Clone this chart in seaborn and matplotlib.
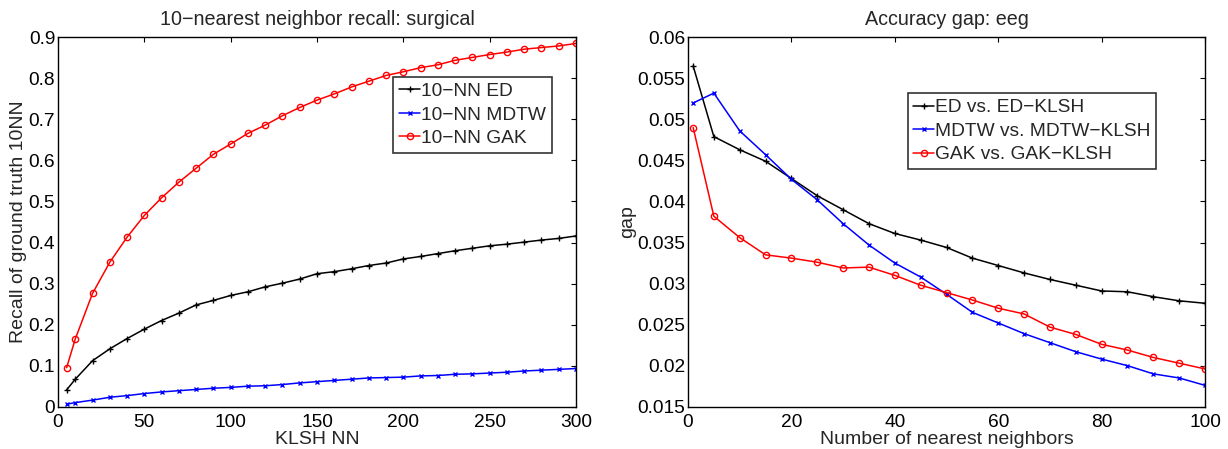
import numpy as np
import pandas as pd
import matplotlib
matplotlib.use("Agg")
import matplotlib.pyplot as plt
import seaborn as sns

# left panel: recall vs KLSH NN (surgical)
klsh_nn = [5, 10, 20, 30, 40, 50, 60, 70, 80, 90, 100, 110, 120, 130, 140, 150,
           160, 170, 180, 190, 200, 210, 220, 230, 240, 250, 260, 270, 280, 290, 300]
recall_ed = [0.041, 0.067, 0.112, 0.141, 0.166, 0.189, 0.210, 0.228, 0.248, 0.259, 0.271,
             0.280, 0.292, 0.301, 0.311, 0.324, 0.329, 0.336, 0.344, 0.350, 0.360, 0.366,
             0.373, 0.380, 0.386, 0.392, 0.396, 0.401, 0.406, 0.410, 0.416]
recall_mdtw = [0.006, 0.010, 0.016, 0.023, 0.027, 0.032, 0.036, 0.039, 0.042, 0.045, 0.047,
               0.050, 0.051, 0.054, 0.058, 0.061, 0.064, 0.067, 0.070, 0.071, 0.072, 0.075,
               0.076, 0.079, 0.080, 0.082, 0.084, 0.087, 0.089, 0.091, 0.093]
recall_gak = [0.095, 0.165, 0.276, 0.352, 0.413, 0.466, 0.509, 0.547, 0.581, 0.615, 0.640,
              0.666, 0.686, 0.709, 0.729, 0.747, 0.762, 0.779, 0.793, 0.807, 0.816, 0.826,
              0.833, 0.844, 0.851, 0.858, 0.864, 0.871, 0.875, 0.879, 0.885]

# right panel: accuracy gap vs number of neighbors (eeg)
n_neighbors = [1, 5, 10, 15, 20, 25, 30, 35, 40, 45, 50, 55, 60, 65, 70, 75, 80, 85, 90, 95, 100]
gap_ed = [0.0565, 0.0479, 0.0463, 0.0449, 0.0428, 0.0407, 0.0390, 0.0373, 0.0361, 0.0353, 0.0344,
          0.0331, 0.0322, 0.0313, 0.0305, 0.0298, 0.0291, 0.0290, 0.0284, 0.0279, 0.0276]
gap_mdtw = [0.0520, 0.0532, 0.0486, 0.0457, 0.0427, 0.0402, 0.0373, 0.0347, 0.0325, 0.0308, 0.0287,
            0.0265, 0.0252, 0.0239, 0.0228, 0.0217, 0.0208, 0.0200, 0.0190, 0.0185, 0.0176]
gap_gak = [0.0490, 0.0382, 0.0356, 0.0335, 0.0331, 0.0326, 0.0319, 0.0320, 0.0310, 0.0298, 0.0289,
           0.0280, 0.0270, 0.0263, 0.0247, 0.0238, 0.0226, 0.0219, 0.0210, 0.0203, 0.0196]

left_names = ["10\u2212NN ED", "10\u2212NN MDTW", "10\u2212NN GAK"]
right_names = ["ED vs. ED\u2212KLSH", "MDTW vs. MDTW\u2212KLSH", "GAK vs. GAK\u2212KLSH"]
colors = ["black", "blue", "red"]
markers = ["+", "x", "o"]
marker_sizes = [4, 3, 4.5]

sns.set_theme(style="white")
plt.rcParams["font.family"] = ["Liberation Sans", "DejaVu Sans"]

left_df = pd.concat([
    pd.DataFrame({"x": klsh_nn, "y": vals, "series": name})
    for name, vals in zip(left_names, [recall_ed, recall_mdtw, recall_gak])
])
right_df = pd.concat([
    pd.DataFrame({"x": n_neighbors, "y": vals, "series": name})
    for name, vals in zip(right_names, [gap_ed, gap_mdtw, gap_gak])
])

fig = plt.figure(figsize=(12.28, 4.49), dpi=100)
ax1 = fig.add_axes([58 / 1228, 1 - 406.7 / 449, 518 / 1228, 369.4 / 449])
ax2 = fig.add_axes([688 / 1228, 1 - 406.7 / 449, 517 / 1228, 369.4 / 449])


def draw(ax, df, names):
    for name, c, m, ms in zip(names, colors, markers, marker_sizes):
        sub = df[df["series"] == name]
        sns.lineplot(data=sub, x="x", y="y", ax=ax, color=c, marker=m, label=name,
                     markersize=ms, linewidth=1.1,
                     markerfacecolor="none" if m == "o" else c,
                     markeredgecolor=c, markeredgewidth=1.0)
    for side in ax.spines.values():
        side.set_color("black")
        side.set_linewidth(1.0)
    ax.tick_params(direction="in", top=True, right=True, length=3.5, width=0.8,
                   labelsize=13.8, colors="black")
    ax.tick_params(axis="x", pad=5)
    ax.tick_params(axis="y", pad=2)


def style_legend(ax, anchor):
    leg = ax.legend(loc="upper left", bbox_to_anchor=anchor,
                    fontsize=13.75, frameon=True, fancybox=False, edgecolor="black",
                    handlelength=1.1, handletextpad=0.05, borderpad=0.3, labelspacing=0.32,
                    borderaxespad=0)
    leg.get_frame().set_linewidth(1.2)


draw(ax1, left_df, left_names)
ax1.set_xlim(0, 300)
ax1.set_ylim(0, 0.9)
ax1.set_xticks(np.arange(0, 301, 50))
ax1.set_yticks(np.round(np.arange(0, 0.91, 0.1), 1))
ax1.set_yticklabels(["0"] + [f"{v:.1f}" for v in np.arange(0.1, 0.91, 0.1)])
ax1.set_title("10\u2212nearest neighbor recall: surgical", fontsize=14.2, pad=9)
ax1.set_xlabel("KLSH NN", fontsize=14, labelpad=0)
ax1.set_ylabel("Recall of ground truth 10NN", fontsize=14, labelpad=1)
style_legend(ax1, (335.3 / 518, 1 - 39.7 / 369.4))

draw(ax2, right_df, right_names)
ax2.set_xlim(0, 100)
ax2.set_ylim(0.015, 0.06)
ax2.set_xticks(np.arange(0, 101, 20))
ax2.set_yticks(np.arange(0.015, 0.0601, 0.005))
ax2.set_yticklabels(["0.015", "0.02", "0.025", "0.03", "0.035", "0.04",
                     "0.045", "0.05", "0.055", "0.06"])
ax2.set_title("Accuracy gap: eeg", fontsize=14.2, pad=9)
ax2.set_xlabel("Number of nearest neighbors", fontsize=14, labelpad=0)
ax2.set_ylabel("gap", fontsize=14, labelpad=1)
style_legend(ax2, (219.5 / 517, 1 - 56 / 369.4))

fig.savefig("out.png", dpi=100)
